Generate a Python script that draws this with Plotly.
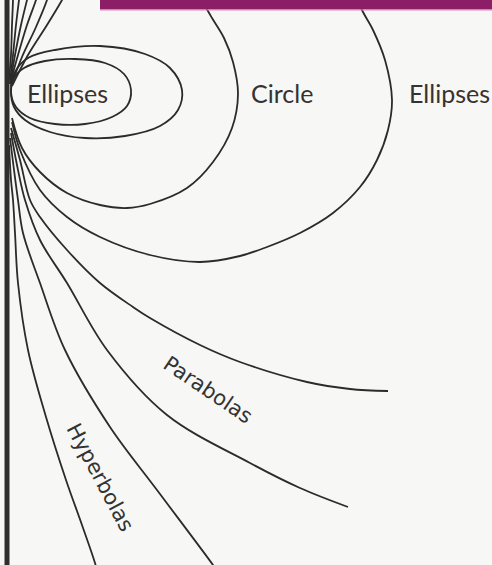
import plotly.graph_objects as go

inner_ellipse_x = [11, 14, 24, 45, 75, 105, 124, 131, 127, 112, 85, 55, 30, 16, 11]
inner_ellipse_y = [92, 78, 68, 61, 59, 63, 74, 90, 106, 117, 124, 124, 118, 107, 92]

second_ellipse_x = [11, 15, 28, 55, 100, 145, 170, 182, 178, 160, 125, 85, 50, 25, 14, 11]
second_ellipse_y = [92, 72, 58, 50, 46, 54, 68, 90, 110, 126, 136, 138, 132, 120, 107, 92]

circle_x = [12, 22, 40, 67, 100, 127, 150, 187, 213, 232, 238, 233, 224, 212, 204, 199]
circle_y = [118, 148, 172, 193, 205, 208, 204, 188, 162, 128, 94, 62, 38, 18, 4, -6]
circle_top_x = [12, 28, 47, 62, 64]
circle_top_y = [86, 55, 25, 0, -4]

big_ellipse_x = [12, 20, 40, 67, 100, 150, 200, 240, 267, 300, 333, 360, 377, 388, 392, 385, 373, 362, 356]
big_ellipse_y = [122, 150, 190, 217, 237, 255, 262, 256, 247, 233, 213, 187, 160, 130, 100, 60, 30, 10, -6]
big_ellipse_top_x = [11, 22, 36, 47, 48]
big_ellipse_top_y = [86, 57, 27, 0, -4]

parabola1_x = [11, 20, 30, 40, 67, 100, 133, 150, 200, 240, 307, 350, 388]
parabola1_y = [128, 160, 200, 217, 250, 283, 307, 318, 345, 362, 382, 389, 391]
parabola1_top_x = [10, 18, 27, 36, 37]
parabola1_top_y = [84, 55, 25, 0, -4]

parabola2_x = [11, 18, 25, 40, 67, 107, 167, 250, 300, 348]
parabola2_y = [133, 170, 200, 240, 283, 350, 415, 463, 488, 507]
parabola2_top_x = [10, 15, 21, 27, 28]
parabola2_top_y = [84, 55, 25, 0, -4]

hyperbola1_x = [10, 14, 18, 23, 40, 65, 110, 157, 213, 217]
hyperbola1_y = [138, 170, 200, 233, 283, 350, 427, 490, 565, 571]
hyperbola1_top_x = [10, 13, 16, 19, 19.5]
hyperbola1_top_y = [82, 55, 25, 0, -4]

hyperbola2_x = [9, 11, 13, 15, 18, 28, 46, 66, 82, 95, 97]
hyperbola2_y = [145, 180, 200, 233, 283, 350, 417, 480, 525, 563, 571]
hyperbola2_top_x = [9, 11, 12, 13, 13]
hyperbola2_top_y = [80, 55, 25, 0, -4]

label_text = ["Ellipses", "Circle", "Ellipses", "Parabolas", "Hyperbolas"]
label_x = [67, 282, 449, 208, 100]
label_y = [93, 93, 93, 390, 477]
label_angle = [0, 0, 0, 34, 62]

curves = [
    (inner_ellipse_x, inner_ellipse_y),
    (second_ellipse_x, second_ellipse_y),
    (circle_x, circle_y), (circle_top_x, circle_top_y),
    (big_ellipse_x, big_ellipse_y), (big_ellipse_top_x, big_ellipse_top_y),
    (parabola1_x, parabola1_y), (parabola1_top_x, parabola1_top_y),
    (parabola2_x, parabola2_y), (parabola2_top_x, parabola2_top_y),
    (hyperbola1_x, hyperbola1_y), (hyperbola1_top_x, hyperbola1_top_y),
    (hyperbola2_x, hyperbola2_y), (hyperbola2_top_x, hyperbola2_top_y),
]

W, H = 492, 565
INK = "#2b2b2b"

fig = go.Figure()
for cx, cy in curves:
    fig.add_trace(go.Scatter(
        x=cx, y=cy, mode="lines",
        line=dict(color=INK, width=1.8, shape="spline", smoothing=1.0),
        hoverinfo="skip", showlegend=False,
    ))

# thick vertical edge line on the left
fig.add_shape(type="line", xref="x", yref="y", x0=7, x1=7, y0=-5, y1=H + 5,
              line=dict(color="#2e2e2e", width=5), layer="above")
# purple band at the top
fig.add_shape(type="rect", xref="x", yref="y", x0=100, x1=W + 5, y0=-5, y1=9.5,
              fillcolor="#8c1e68", line=dict(width=0), layer="above")
fig.add_shape(type="line", xref="x", yref="y", x0=100, x1=W + 5, y0=10, y1=10,
              line=dict(color="#d58ab5", width=1), layer="above")

for t, x, y, a in zip(label_text, label_x, label_y, label_angle):
    if a == 0:
        font = dict(family="Lato", size=25, color="#333333")
    else:
        font = dict(family="DejaVu Sans", size=21, color="#333333")
    fig.add_annotation(x=x, y=y, xref="x", yref="y", text=t, showarrow=False,
                       textangle=a, font=font)

fig.update_layout(
    width=W, height=H,
    margin=dict(l=0, r=0, t=0, b=0),
    paper_bgcolor="#f7f7f5", plot_bgcolor="#f7f7f5",
    xaxis=dict(range=[0, W], visible=False, fixedrange=True),
    yaxis=dict(range=[H, 0], visible=False, fixedrange=True),
    showlegend=False,
)

fig.write_html("out.html", config={"displayModeBar": False},
               post_script="document.body.style.margin='0';document.body.style.overflow='hidden';")
